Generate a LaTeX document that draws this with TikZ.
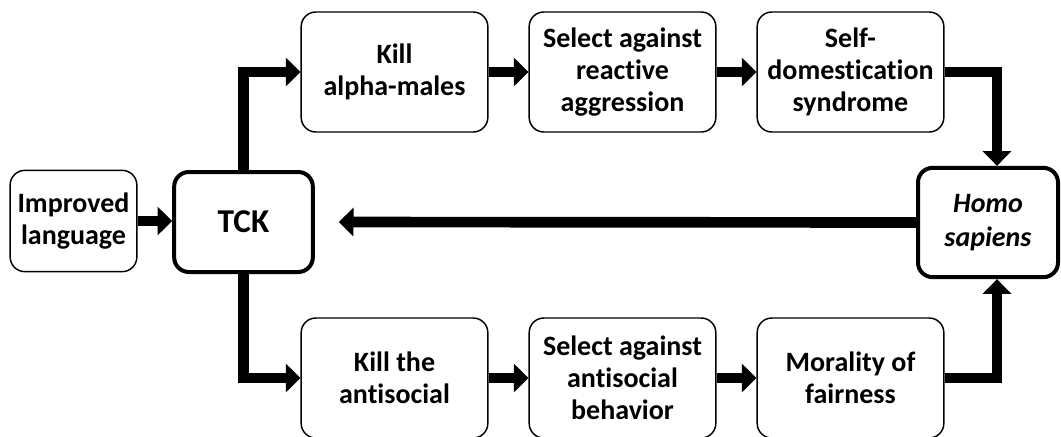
\documentclass[tikz,border=0pt]{standalone}
\usepackage{fontspec}
\setmainfont[Ligatures={NoCommon}]{Carlito}
\usepackage{tikz}
\usetikzlibrary{arrows.meta,positioning}

\begin{document}
\begin{tikzpicture}[x=0.75pt,y=-0.75pt,node distance=171pt,on grid,
	font=\bfseries\fontsize{21}{24}\selectfont]
	\tikzstyle{box}=[draw,rounded corners=11pt,line width=1.1pt,minimum width=140pt,minimum height=90pt,align=center,inner sep=2pt]
	\tikzstyle{bigbox}=[box,line width=3pt]
	\tikzstyle{flow}=[line width=8pt,-{Triangle[length=11pt,width=21pt]}]
	\useasboundingbox[fill=white] (0,0) rectangle (1061,436);
	
	\node[box,minimum width=95pt,minimum height=76pt]   (IL) at (73.5,221)  {Improved\\language};
	\node[bigbox,minimum width=104pt,minimum height=75pt,font=\bfseries\fontsize{25}{27}\selectfont] (TCK) at (243.5,222) {TCK};
	\node[box]                    (KAM) at (394.5,72)     {Kill\\alpha-males};
	\node[box]                    (SAR) [right of=KAM]    {Select against\\reactive\\aggression};
	\node[box]                    (SDS) [right of=SAR]    {Self-\\domestication\\syndrome};
	\node[box]                    (KTA) at (394.5,378)    {Kill the\\antisocial};
	\node[box]                    (SAB) [right of=KTA]    {Select against\\antisocial\\behavior};
	\node[box]                    (MOF) [right of=SAB]    {Morality of\\fairness};
	\node[bigbox,minimum width=105pt,minimum height=82pt,font=\bfseries\itshape\fontsize{21}{25}\selectfont] (HS) at (988,222.5) {Homo\\sapiens};
	
	\draw[flow] (IL.east) -- (IL.east -| TCK.west);
	\draw[flow] (TCK.north) |- (KAM.west);
	\draw[flow] (TCK.south) |- (KTA.west);
	\draw[flow] (KAM) -- (SAR);
	\draw[flow] (SAR) -- (SDS);
	\draw[flow] (KTA) -- (SAB);
	\draw[flow] (SAB) -- (MOF);
	\draw[flow] (SDS.east) -| ([xshift=6.75pt]HS.north);
	\draw[flow] (MOF.east) -| ([xshift=6.75pt]HS.south);
	\draw[flow,shorten >=18pt] (HS.west) -- (TCK.east);
\end{tikzpicture}
\end{document}
